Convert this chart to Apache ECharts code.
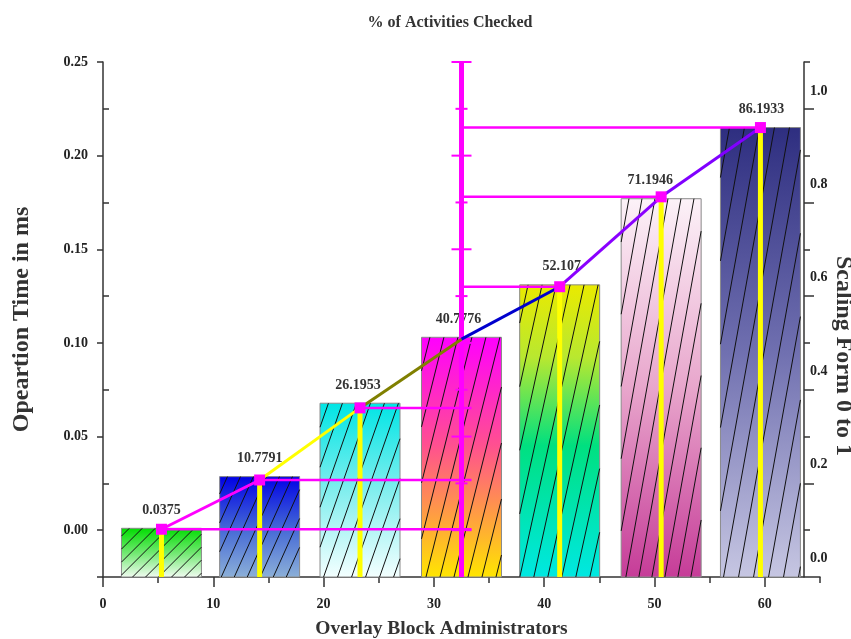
<!DOCTYPE html>
<html><head><meta charset="utf-8">
<script src="https://cdn.jsdelivr.net/npm/echarts@6/dist/echarts.min.js"></script>
<style>html,body{margin:0;padding:0;background:#fff}#c{width:851px;height:639px}</style>
</head><body><div id="c"></div>
<script>
// ---------------- data ----------------
const administrators = [5.3, 14.2, 23.3, 32.5, 41.4, 50.6, 59.6];
const operationTime = [0.001, 0.0286, 0.0678, 0.103, 0.131, 0.177, 0.215];
const lineTime = [0.0005, 0.0268, 0.0653, 0.102, 0.130, 0.178, 0.215];
const activitiesChecked = [0.0375, 10.7791, 26.1953, 40.7776, 52.107, 71.1946, 86.1933];
const xTicks = [0, 10, 20, 30, 40, 50, 60];
const xMinorTicks = [5, 15, 25, 35, 45, 55, 65];
const leftTicks = [0, 0.05, 0.10, 0.15, 0.20, 0.25];
const leftMinorTicks = [0.025, 0.075, 0.125, 0.175, 0.225];
const rightTicks = [0, 0.2, 0.4, 0.6, 0.8, 1.0];
const magentaIndex = 3;

// ---------------- ranges & styles ----------------
const X_MIN = 0, X_MAX = 65, Y_MIN = -0.025, Y_MAX = 0.25, R_MIN = -0.0407, R_MAX = 1.0621;
const BAR_W = 7.25;
const FONT = '"Liberation Serif", "Times New Roman", serif';
const AX = '#333';
const barStops = [
  [[0, '#00dd00'], [0.5, '#70e870'], [1, '#f2fcf2']],
  [[0, '#0000e6'], [0.5, '#4266d6'], [1, '#8cb0d8']],
  [[0, '#00e5e5'], [0.5, '#80eeee'], [1, '#f4ffff']],
  [[0, '#ff00ff'], [0.45, '#ff5090'], [0.75, '#ffa040'], [1, '#ffe600']],
  [[0, '#eaea00'], [0.25, '#b8e830'], [0.55, '#00e080'], [1, '#00e8e2']],
  [[0, '#fcf2f8'], [0.5, '#e8a6cc'], [1, '#c63c98']],
  [[0, '#2e2e80'], [0.5, '#7070b0'], [1, '#c6c6e2']]
];
const hatch = [
  {s: 1.0, sp: 13}, {s: 0.45, sp: 13}, {s: 0.35, sp: 14}, {s: 0.25, sp: 14},
  {s: 0.22, sp: 14}, {s: 0.18, sp: 13}, {s: 0.18, sp: 15}
];
const labelDx = [0, 0, -2, -3, 2, -11, 1];
const segColors = ['#ff00ff', '#ffff00', '#808000', '#0000cd', '#8a00ff', '#8000ff'];

const chart = echarts.init(document.getElementById('c'), null, {renderer: 'canvas'});

function renderBar(params, api) {
  const i = params.dataIndex;
  const x = api.value(0), v = api.value(1);
  const top = api.coord([x, v]);
  const base = api.coord([x, Y_MIN]);
  const w = api.size([BAR_W, 0])[0];
  const xl = top[0] - w / 2, xr = top[0] + w / 2, yt = top[1], yb = base[1];
  const H = yb - yt;
  const children = [{
    type: 'rect',
    shape: {x: xl, y: yt, width: w, height: H},
    style: {
      fill: {type: 'linear', x: 0, y: 0, x2: 0, y2: 1,
        colorStops: barStops[i].map(s => ({offset: s[0], color: s[1]}))},
      stroke: '#8a8a8a', lineWidth: 1
    }
  }];
  const s = hatch[i].s, sp = hatch[i].sp;
  for (let c = xl - s * H + sp * 0.6; c < xr; c += sp) {
    const y1 = Math.max(yt, yb - (xr - c) / s);
    const y2 = Math.min(yb, yb - (xl - c) / s);
    if (y2 - y1 < 1) continue;
    children.push({
      type: 'line',
      shape: {x1: c + s * (yb - y2), y1: y2, x2: c + s * (yb - y1), y2: y1},
      style: {stroke: '#111', lineWidth: 1}
    });
  }
  children.push({
    type: 'text',
    style: {
      text: String(activitiesChecked[i]), x: top[0] + labelDx[i], y: yt - 11,
      align: 'center', verticalAlign: 'bottom',
      fontFamily: FONT, fontWeight: 'bold', fontSize: 14, fill: '#333'
    }
  });
  return {type: 'group', children};
}

function renderDrop(params, api) {
  const p = api.coord([api.value(0), api.value(1)]);
  const b = api.coord([api.value(0), Y_MIN]);
  return {type: 'line', shape: {x1: p[0], y1: p[1], x2: b[0], y2: b[1]},
    style: {stroke: '#ffff00', lineWidth: 5}};
}

function renderMagentaAxis(params, api) {
  const x = api.value(0);
  const t = api.coord([x, Y_MAX]);
  const b = api.coord([x, Y_MIN]);
  const children = [{type: 'line', shape: {x1: t[0], y1: t[1], x2: b[0], y2: b[1]},
    style: {stroke: '#ff00ff', lineWidth: 5}}];
  leftTicks.forEach(v => {
    const p = api.coord([x, v]);
    children.push({type: 'line', shape: {x1: p[0] - 10, y1: p[1], x2: p[0] + 10, y2: p[1]},
      style: {stroke: '#ff00ff', lineWidth: 2}});
  });
  leftMinorTicks.forEach(v => {
    const p = api.coord([x, v]);
    children.push({type: 'line', shape: {x1: p[0] - 6, y1: p[1], x2: p[0] + 6, y2: p[1]},
      style: {stroke: '#ff00ff', lineWidth: 2}});
  });
  return {type: 'group', children};
}

function renderHLine(params, api) {
  const p = api.coord([api.value(0), api.value(1)]);
  const a = api.coord([administrators[magentaIndex], api.value(1)]);
  const x1 = p[0] < a[0] ? p[0] : a[0];
  const x2 = p[0] < a[0] ? a[0] + 10 : p[0];
  return {type: 'line', shape: {x1: x1, y1: p[1], x2: x2, y2: p[1]},
    style: {stroke: '#ff00ff', lineWidth: 2.5}};
}

const points = administrators.map((x, i) => [x, lineTime[i]]);
const bars = administrators.map((x, i) => [x, operationTime[i]]);
const otherPoints = points.filter((p, i) => i !== magentaIndex);

const series = [
  {type: 'custom', name: 'Operation Time', renderItem: renderBar, data: bars, z: 1,
    xAxisIndex: 0, yAxisIndex: 0, clip: false},
  {type: 'custom', name: 'drop', renderItem: renderDrop, data: points, z: 2,
    xAxisIndex: 0, yAxisIndex: 0},
  {type: 'custom', name: 'hlines', renderItem: renderHLine, data: otherPoints, z: 3,
    xAxisIndex: 0, yAxisIndex: 0},
  {type: 'custom', name: 'magenta axis', renderItem: renderMagentaAxis,
    data: [points[magentaIndex]], z: 3, xAxisIndex: 0, yAxisIndex: 0, clip: false}
];
for (let k = 0; k < points.length - 1; k++) {
  series.push({
    type: 'line', data: [points[k], points[k + 1]], symbol: 'none', z: 4,
    xAxisIndex: 0, yAxisIndex: 0,
    lineStyle: {color: segColors[k], width: 3}
  });
}
series.push({
  type: 'scatter', data: otherPoints, symbol: 'rect', symbolSize: 11, z: 5,
  xAxisIndex: 0, yAxisIndex: 0,
  itemStyle: {color: '#ff00ff', opacity: 1}
});

const labelStyle = {fontFamily: FONT, fontWeight: 'bold', fontSize: 14, color: '#222'};
const nameStyle = {fontFamily: FONT, fontWeight: 'bold', fontSize: 19.5, color: '#333'};
const vNameStyle = {fontFamily: FONT, fontWeight: 'bold', fontSize: 24, color: '#333'};

const option = {
  animation: false,
  backgroundColor: '#fff',
  title: {
    text: '% of Activities Checked', left: 445, top: 10, textAlign: 'center',
    textStyle: {fontFamily: FONT, fontWeight: 'bold', fontSize: 16, color: '#333'}
  },
  grid: {left: 103, right: 31, top: 62, bottom: 62, containLabel: false, outerBoundsMode: 'none'},
  xAxis: [
    {type: 'value', min: X_MIN, max: X_MAX, position: 'bottom',
      axisLine: {show: true, onZero: false, lineStyle: {color: AX, width: 1.5}},
      axisTick: {show: true, customValues: xTicks, length: 10, lineStyle: {color: AX, width: 1.5}},
      axisLabel: Object.assign({customValues: xTicks, margin: 20}, labelStyle),
      splitLine: {show: false},
      name: 'Overlay Block Administrators', nameLocation: 'middle', nameGap: 42,
      nameMoveOverlap: false,
      nameTextStyle: Object.assign({padding: [0, 40, 0, 0]}, nameStyle)},
    {type: 'value', min: X_MIN, max: X_MAX, position: 'bottom',
      axisLine: {show: false, onZero: false},
      axisTick: {show: true, customValues: xMinorTicks, length: 6, lineStyle: {color: AX, width: 1.5}},
      axisLabel: {show: false}, splitLine: {show: false}}
  ],
  yAxis: [
    {type: 'value', min: Y_MIN, max: Y_MAX, position: 'left',
      axisLine: {show: true, onZero: false, lineStyle: {color: AX, width: 1.5}},
      axisTick: {show: true, customValues: [Y_MIN].concat(leftTicks), length: 6, lineStyle: {color: AX, width: 1.5}},
      axisLabel: Object.assign({customValues: leftTicks, margin: 15, formatter: v => v.toFixed(2)}, labelStyle),
      splitLine: {show: false},
      name: 'Opeartion Time in ms', nameLocation: 'middle', nameGap: 69, nameRotate: 90,
      nameMoveOverlap: false,
      nameTextStyle: vNameStyle},
    {type: 'value', min: Y_MIN, max: Y_MAX, position: 'left',
      axisLine: {show: false, onZero: false},
      axisTick: {show: true, inside: true, customValues: leftMinorTicks, length: 6, lineStyle: {color: AX, width: 1.5}},
      axisLabel: {show: false}, splitLine: {show: false}},
    {type: 'value', min: Y_MIN, max: Y_MAX, position: 'right', offset: -16,
      axisLine: {show: true, onZero: false, lineStyle: {color: AX, width: 1.5}},
      axisTick: {show: true, customValues: leftTicks, length: 6, lineStyle: {color: AX, width: 1.5}},
      axisLabel: {show: false}, splitLine: {show: false}},
    {type: 'value', min: Y_MIN, max: Y_MAX, position: 'right', offset: -16,
      axisLine: {show: false, onZero: false},
      axisTick: {show: true, customValues: leftMinorTicks, length: 10, lineStyle: {color: AX, width: 1.5}},
      axisLabel: {show: false}, splitLine: {show: false}},
    {type: 'value', min: R_MIN, max: R_MAX, position: 'right', offset: -16,
      axisLine: {show: false, onZero: false}, axisTick: {show: false},
      axisLabel: Object.assign({customValues: rightTicks, margin: 6, formatter: v => v.toFixed(1)}, labelStyle),
      splitLine: {show: false},
      name: 'Scaling Form 0 to 1', nameLocation: 'middle', nameGap: 27, nameRotate: -90,
      nameMoveOverlap: false,
      nameTextStyle: Object.assign({padding: [0, 0, 0, 73]}, vNameStyle)}
  ],
  series
};
chart.setOption(option);
</script>
</body></html>
